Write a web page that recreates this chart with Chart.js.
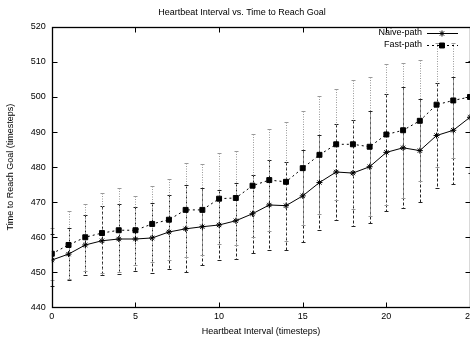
<!DOCTYPE html>
<html lang="en">
<head>
<meta charset="UTF-8">
<title>Heartbeat Interval vs. Time to Reach Goal</title>
<script src="https://cdn.jsdelivr.net/npm/chart.js"></script>
<style>
  html, body { margin: 0; background: #fff; overflow: hidden; }
  canvas { display: block; }
</style>
</head>
<body>
<canvas id="chart" width="479" height="337"></canvas>
<script>
  // values
  const intervals = [0, 1, 2, 3, 4, 5, 6, 7, 8, 9, 10, 11, 12, 13, 14, 15, 16, 17, 18, 19, 20, 21, 22, 23, 24, 25];
  const naiveMean = [453.5, 455.2, 457.8, 459.0, 459.5, 459.5, 459.8, 461.5, 462.4, 463.0, 463.5, 464.7, 466.7, 469.2, 469.0, 471.8, 475.6, 478.6, 478.3, 480.1, 484.2, 485.5, 484.7, 489.0, 490.5, 494.2];
  const naiveErr  = [7.3, 7.5, 8.5, 9.8, 10.0, 9.0, 10.0, 10.5, 12.4, 11.0, 10.0, 10.8, 11.1, 12.7, 12.5, 13.2, 13.6, 13.6, 15.0, 16.0, 16.7, 17.3, 14.7, 15.0, 15.2, 16.0];
  const fastMean  = [455.3, 457.8, 460.0, 461.2, 462.0, 462.0, 463.8, 465.0, 467.8, 467.8, 471.0, 471.2, 474.7, 476.3, 475.8, 479.7, 483.5, 486.5, 486.5, 485.8, 489.3, 490.5, 493.2, 497.8, 499.0, 500.0];
  const fastErr   = [7.4, 9.8, 9.6, 11.4, 12.0, 9.8, 10.9, 11.6, 13.3, 13.0, 13.0, 13.5, 14.7, 14.5, 17.0, 16.2, 16.8, 15.8, 18.4, 19.8, 20.0, 19.2, 17.2, 17.7, 16.5, 20.0];

  const FONT = "'Liberation Sans', Arial, Helvetica, sans-serif";

  function points(xs, ys) {
    return xs.map((x, i) => ({ x: x, y: ys[i] }));
  }

  // vertical error bars with small caps, drawn through the scales
  const errorBars = {
    id: 'errorBars',
    beforeDatasetsDraw(chart) {
      const ctx = chart.ctx;
      const x = chart.scales.x, y = chart.scales.y;
      chart.data.datasets.forEach(ds => {
        ctx.save();
        ctx.strokeStyle = ds.errorColor;
        ctx.lineWidth = 1;
        ctx.setLineDash(ds.errorDash);
        ds.data.forEach((p, j) => {
          const px = Math.round(x.getPixelForValue(p.x)) + 0.5;
          const top = Math.round(y.getPixelForValue(p.y + ds.errors[j])) + 0.5;
          const bot = Math.round(y.getPixelForValue(p.y - ds.errors[j])) + 0.5;
          ctx.beginPath();
          ctx.moveTo(px, top);
          ctx.lineTo(px, bot);
          ctx.stroke();
          ctx.setLineDash([]);
          ctx.beginPath();
          ctx.moveTo(px - 2, top); ctx.lineTo(px + 2, top);
          ctx.moveTo(px - 2, bot); ctx.lineTo(px + 2, bot);
          ctx.stroke();
          ctx.setLineDash(ds.errorDash);
        });
        ctx.restore();
      });
    }
  };

  // gnuplot-like frame with inward ticks on all sides, and key at top right
  const frameAndKey = {
    id: 'frameAndKey',
    afterDraw(chart) {
      const ctx = chart.ctx;
      const a = chart.chartArea;
      const L = Math.round(a.left) + 0.5, R = Math.round(a.right) + 0.5;
      const T = Math.round(a.top) + 0.5, B = Math.round(a.bottom) + 0.5;
      ctx.save();
      ctx.strokeStyle = '#000';
      ctx.lineWidth = 1.3;
      ctx.strokeRect(L, T, R - L, B - T);
      ctx.lineWidth = 1;
      ctx.beginPath();
      chart.scales.x.ticks.forEach(t => {
        const px = Math.round(chart.scales.x.getPixelForValue(t.value)) + 0.5;
        ctx.moveTo(px, B); ctx.lineTo(px, B - 5);
        ctx.moveTo(px, T); ctx.lineTo(px, T + 5);
      });
      chart.scales.y.ticks.forEach(t => {
        const py = Math.round(chart.scales.y.getPixelForValue(t.value)) + 0.5;
        ctx.moveTo(L, py); ctx.lineTo(L + 5, py);
        ctx.moveTo(R, py); ctx.lineTo(R - 5, py);
      });
      ctx.stroke();

      // key
      ctx.font = '9px ' + FONT;
      ctx.textAlign = 'right';
      ctx.textBaseline = 'middle';
      chart.data.datasets.forEach((ds, i) => {
        const ky = 33 + i * 12;
        ctx.fillStyle = '#000';
        ctx.fillText(ds.label, 422, ky);
        ctx.setLineDash(ds.borderDash || []);
        ctx.beginPath();
        ctx.moveTo(427, ky + 0.5);
        ctx.lineTo(458, ky + 0.5);
        ctx.stroke();
        ctx.setLineDash([]);
        ctx.strokeStyle = '#000';
        Chart.helpers.drawPoint(ctx, {
          pointStyle: ds.pointStyle, radius: ds.pointRadius,
          borderWidth: 1, rotation: 0
        }, 442, ky + 0.5);
      });
      ctx.restore();
    }
  };

  new Chart(document.getElementById('chart'), {
    type: 'line',
    data: {
      datasets: [{
        label: 'Naive-path',
        data: points(intervals, naiveMean),
        errors: naiveErr,
        errorColor: '#222',
        errorDash: [3, 2],
        borderColor: '#000',
        backgroundColor: '#000',
        borderWidth: 1,
        pointStyle: 'star',
        pointRadius: 3,
        pointBorderWidth: 1,
        tension: 0
      }, {
        label: 'Fast-path',
        data: points(intervals, fastMean),
        errors: fastErr,
        errorColor: '#999',
        errorDash: [1, 1.5],
        borderColor: '#000',
        backgroundColor: '#000',
        borderWidth: 1,
        borderDash: [2, 3],
        pointStyle: 'rect',
        pointRadius: 3.5,
        pointBorderWidth: 1,
        tension: 0
      }]
    },
    options: {
      responsive: false,
      animation: false,
      layout: { padding: { left: 5, right: 0, top: 0, bottom: 0 } },
      plugins: {
        legend: { display: false },
        tooltip: { enabled: false },
        title: {
          display: true,
          text: 'Heartbeat Interval vs. Time to Reach Goal',
          color: '#000',
          font: { family: FONT, size: 9, weight: 'normal' },
          padding: { top: 7, bottom: 9 }
        }
      },
      scales: {
        x: {
          type: 'linear',
          min: 0, max: 25,
          grid: { display: false, drawTicks: false },
          border: { display: false },
          ticks: { stepSize: 5, color: '#000', padding: 4, maxRotation: 0, font: { family: FONT, size: 9 } },
          title: { display: true, text: 'Heartbeat Interval (timesteps)', color: '#000', padding: { top: 0, bottom: 0 }, font: { family: FONT, size: 9 } }
        },
        y: {
          min: 440, max: 520,
          grid: { display: false, drawTicks: false },
          border: { display: false },
          ticks: { stepSize: 10, color: '#000', padding: 6, font: { family: FONT, size: 9 } },
          title: { display: true, text: 'Time to Reach Goal (timesteps)', color: '#000', padding: { top: 0, bottom: 9 }, font: { family: FONT, size: 9 } }
        }
      }
    },
    plugins: [errorBars, frameAndKey]
  });
</script>
</body>
</html>
